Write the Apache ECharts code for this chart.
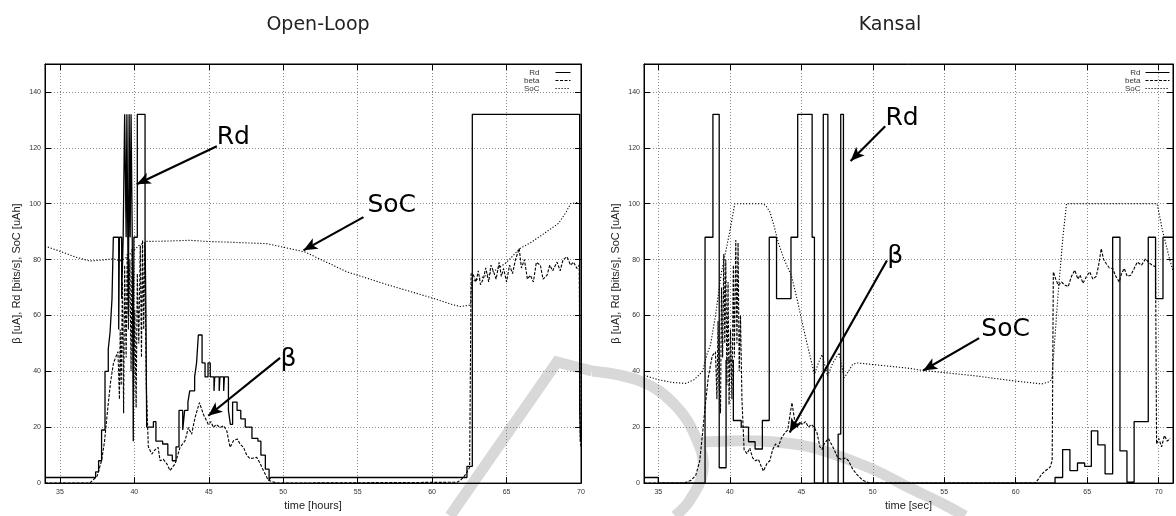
<!DOCTYPE html>
<html>
<head>
<meta charset="utf-8">
<script src="https://cdn.jsdelivr.net/npm/echarts@6/dist/echarts.min.js"></script>
<style>
html, body { margin: 0; padding: 0; background: #fff; }
#chart { width: 1176px; height: 516px; }
</style>
</head>
<body>
<div id="chart"></div>
<script>
// ---- Open-Loop (left panel), x = time [hours] ----
var olRd = [
    [34, 2], [37.4, 4], [37.6, 8], [37.8, 19], [38.03, 40], [38.25, 48], [38.37, 54], [38.5, 66],
    [38.59, 88], [38.95, 55], [39.0, 88], [39.15, 66], [39.25, 88], [39.35, 132], [39.45, 88],
    [39.5, 132], [39.6, 60], [39.65, 132], [39.72, 88], [39.78, 132], [39.86, 88], [39.93, 15],
    [39.97, 88], [40.2, 132], [40.72, 88], [40.78, 60], [40.83, 20], [41.28, 22], [41.45, 15],
    [41.9, 14], [42.25, 10], [42.55, 8], [42.8, 13], [43.0, 26], [43.25, 19], [43.38, 26],
    [43.6, 29], [43.72, 33], [44.05, 38], [44.18, 43], [44.3, 53], [44.55, 43], [44.75, 38],
    [44.95, 43], [45.1, 38], [45.35, 33], [45.4, 38], [45.7, 33], [45.75, 38], [46.0, 33],
    [46.05, 38], [46.32, 26], [46.45, 21], [46.6, 29], [46.9, 26], [47.15, 23], [47.45, 20],
    [47.9, 16], [48.3, 15], [48.5, 10], [48.8, 5], [49.05, 1], [49.15, 2], [62.34, 6],
    [62.7, 132], [69.91, 26], [69.97, 15], [70, 15]
];
var olBeta = [
    [34, 0], [37.0, 0], [37.5, 2.5], [37.8, 8], [38.0, 15], [38.2, 26], [38.4, 36], [38.6, 43],
    [38.9, 47], [39.0, 30], [39.05, 55], [39.12, 35], [39.2, 72], [39.28, 25], [39.35, 78],
    [39.45, 45], [39.52, 82], [39.6, 55], [39.7, 80], [39.78, 40], [39.85, 84], [39.95, 30],
    [40.03, 62], [40.12, 27], [40.2, 75], [40.3, 50], [40.4, 85], [40.48, 45], [40.55, 87],
    [40.63, 55], [40.7, 86], [40.8, 35], [40.94, 13], [41.17, 10.4], [41.4, 12], [41.6, 12.8],
    [41.73, 8], [41.95, 8.5], [42.18, 6.9], [42.4, 4.5], [42.6, 6], [42.74, 6.9], [43.07, 12.8],
    [43.41, 15.2], [43.63, 19.9], [43.85, 17.5], [44.08, 23.5], [44.37, 28.8], [44.64, 24.6],
    [44.97, 21], [45.15, 22], [45.31, 19.9], [45.5, 21], [45.76, 19.9], [46.0, 20.5],
    [46.21, 18.7], [46.43, 12.8], [46.66, 15.2], [46.92, 15.8], [47.1, 14], [47.33, 12.8],
    [47.55, 10], [47.78, 8.7], [48.0, 9], [48.23, 9.2], [48.45, 7], [48.67, 4.5], [49.0, 1],
    [49.57, 0], [61.67, 0.3], [61.9, 1], [62.11, 2.1], [62.3, 3.5], [62.52, 5.7], [62.62, 75],
    [62.78, 74.4], [62.95, 72], [63.1, 76], [63.25, 71], [63.45, 73.2], [63.6, 77], [63.8, 72],
    [63.95, 78], [64.13, 75.6], [64.3, 73], [64.5, 79], [64.65, 74], [64.8, 76.8], [65.0, 72],
    [65.2, 78], [65.4, 75], [65.6, 80], [65.85, 84], [66.0, 77], [66.2, 80], [66.4, 73],
    [66.6, 74.4], [66.8, 72], [67.0, 79], [67.27, 78], [67.45, 73], [67.72, 74.4], [67.9, 78],
    [68.1, 76], [68.39, 79.1], [68.6, 76], [68.8, 80], [69.06, 81], [69.3, 78], [69.5, 79.1],
    [69.73, 76.8], [69.88, 78], [69.95, 15], [70, 13]
];
var olSoc = [
    [34, 84.8], [35, 83], [36, 81], [37.0, 79.5], [37.8, 79.8], [38.59, 80.3], [39.04, 79.5],
    [39.4, 80.5], [39.71, 82], [40.3, 85], [40.83, 86.5], [42, 86.6], [43.74, 86.9],
    [44.87, 86.5], [46.5, 86.2], [48.9, 85.7], [50.47, 83.9], [51.47, 82.7], [54.28, 75.6],
    [57, 71], [60.1, 66.1], [61.3, 64], [61.89, 63.2], [62.56, 63.7], [62.66, 72], [63.5, 74],
    [64.2, 76], [65, 79], [65.9, 84], [66.6, 86], [67.7, 90], [68.5, 93], [69.0, 97],
    [69.3, 100], [69.9, 100.5]
];

// ---- Kansal (right panel), x = time [sec] ----
var kRd = [
    [34, 2], [35.0, 0], [38.27, 88], [38.82, 132], [39.26, 5.5], [39.74, 44], [40.25, 22.4],
    [40.8, 20], [41.31, 14.8], [41.77, 12.2], [42.28, 22.4], [42.76, 88], [43.27, 66],
    [44.28, 88], [44.75, 132], [45.76, 88], [45.92, 0], [46.54, 132], [46.86, 0], [47.58, 17.5],
    [47.76, 132], [47.95, 0], [62.75, 2], [63.28, 12], [63.79, 4.5], [64.32, 7.2], [64.82, 6],
    [65.29, 18.7], [65.74, 13.7], [66.25, 3.3], [66.78, 88], [67.29, 11.5], [67.78, 0.3],
    [68.28, 22], [69.27, 88], [69.78, 66], [70.3, 88], [71, 88]
];
var kBeta = [
    [34, 0], [36.8, 0], [37.3, 1], [37.62, 2.8], [37.9, 8], [38.1, 18], [38.27, 27], [38.5, 38],
    [38.77, 45.5], [39.0, 47], [39.1, 30], [39.18, 58], [39.25, 35], [39.35, 25], [39.42, 70],
    [39.5, 45], [39.58, 82], [39.65, 50], [39.72, 80], [39.8, 35], [39.88, 72], [39.95, 28],
    [40.05, 55], [40.15, 30], [40.25, 78], [40.32, 45], [40.42, 87], [40.5, 50], [40.58, 86],
    [40.66, 40], [40.75, 60], [40.85, 30], [41.0, 12], [41.2, 10.5], [41.4, 12.5], [41.6, 9],
    [41.8, 8], [42.0, 8.5], [42.2, 6], [42.35, 4.3], [42.6, 7], [42.8, 8], [43.0, 12],
    [43.2, 14], [43.4, 13], [43.6, 16], [43.85, 18], [44.05, 19], [44.2, 24], [44.35, 28.8],
    [44.55, 22], [44.75, 20], [44.9, 22], [45.1, 21], [45.3, 22], [45.5, 20], [45.7, 21],
    [45.9, 20], [46.1, 18], [46.3, 13], [46.45, 12], [46.6, 14], [46.9, 16], [47.1, 14],
    [47.3, 12], [47.55, 9], [47.8, 8.5], [48.1, 9], [48.3, 8], [48.6, 5], [48.9, 3], [49.3, 1],
    [49.8, 0], [61.37, 0], [61.6, 1.5], [61.83, 3.3], [62.1, 4.5], [62.4, 5.7], [62.55, 8],
    [62.63, 75.6], [62.8, 73], [62.98, 70.8], [63.2, 72], [63.4, 71], [63.67, 70.3], [63.9, 74],
    [64.13, 76.2], [64.35, 73], [64.5, 74.5], [64.7, 71.5], [64.95, 74], [65.17, 75.6],
    [65.4, 73], [65.63, 74], [65.8, 78], [65.98, 83.9], [66.15, 80], [66.32, 78.6], [66.55, 77],
    [66.78, 76.8], [67.0, 74], [67.24, 72], [67.4, 75], [67.59, 76.8], [67.8, 74], [68.05, 74.4],
    [68.3, 77], [68.5, 79.1], [68.8, 78], [69.08, 80.3], [69.3, 79], [69.54, 78], [69.78, 77.4],
    [69.85, 14], [70.0, 16], [70.2, 13], [70.4, 17], [70.6, 15], [70.8, 16]
];
var kSoc = [
    [34, 38.6], [35, 37], [36, 36], [36.93, 35.7], [37.5, 37], [38.1, 40], [38.4, 46],
    [38.65, 49.5], [39.0, 60], [39.4, 75], [39.8, 85], [40.0, 90], [40.35, 100], [42.23, 100],
    [42.5, 99.5], [42.81, 97], [43.1, 92], [43.38, 86.3], [43.8, 80], [44.3, 74.4], [44.7, 66],
    [45.0, 59], [45.4, 50], [45.92, 38.9], [46.2, 43], [46.45, 46], [46.84, 38.3], [47.2, 43],
    [47.65, 46.6], [48.0, 37.7], [48.3, 40], [48.6, 42.5], [48.92, 43], [50.07, 42.4],
    [52.37, 41.2], [53.53, 40.3], [57, 38.5], [60, 36.5], [61.83, 35.5], [62.3, 36.2],
    [62.52, 37], [62.63, 37.7], [63.0, 70], [63.3, 88], [63.55, 100], [69.89, 100],
    [70.24, 91], [70.77, 80], [71, 76]
];

var legendNames = ['Rd', 'beta', 'SoC'];

// annotation text + arrow (data coordinates)
var olNotes = [
    {text: 'Rd', at: [45.5, 123.7], from: [45.54, 120.6], to: [40.16, 107]},
    {text: 'SoC', at: [55.62, 99.5], from: [55.39, 95.2], to: [51.36, 83.3]},
    {text: 'β', at: [49.79, 44.2], from: [49.79, 44.8], to: [44.97, 24.1]}
];
var kNotes = [
    {text: 'Rd', at: [50.85, 130.5], from: [50.87, 127.7], to: [48.45, 115.3]},
    {text: 'β', at: [50.98, 81.0], from: [50.99, 79.7], to: [44.19, 18.1]},
    {text: 'SoC', at: [57.56, 55.1], from: [57.44, 51.9], to: [53.53, 40.3]}
];

var TICK_FONT = 'Liberation Sans';

function makeX(grid, max, name, mirror) {
    return {
        type: 'value', gridIndex: grid, min: 34, max: max, splitNumber: 7,
        position: mirror ? 'top' : 'bottom',
        name: mirror ? '' : name, nameLocation: 'middle', nameGap: 16,
        nameTextStyle: {fontFamily: TICK_FONT, fontSize: 11, color: '#222'},
        axisLine: {show: true, onZero: false, lineStyle: {color: '#000', width: 1}},
        axisTick: {show: true, inside: true, length: 6, lineStyle: {color: '#000'}},
        axisLabel: {
            show: !mirror, fontFamily: TICK_FONT, fontSize: 7, color: '#333', margin: 5,
            formatter: function (v) { return (v % 5 === 0 && v >= 35 && v <= 70) ? String(v) : ''; }
        },
        splitLine: {show: !mirror, lineStyle: {color: '#888', width: 1, type: [1, 2]}}
    };
}

function makeY(grid, mirror) {
    return {
        type: 'value', gridIndex: grid, min: 0, max: 150, interval: 20,
        position: mirror ? 'right' : 'left',
        name: mirror ? '' : 'β [uA], Rd [bits/s], SoC [uAh]',
        nameLocation: 'middle', nameGap: 23,
        nameTextStyle: {fontFamily: TICK_FONT, fontSize: 11, color: '#222'},
        axisLine: {show: true, onZero: false, lineStyle: {color: '#000', width: 1}},
        axisTick: {show: true, inside: true, length: 6, lineStyle: {color: '#000'}},
        axisLabel: {
            show: !mirror, fontFamily: TICK_FONT, fontSize: 7, color: '#333', margin: 4,
            formatter: function (v) { return (v % 20 === 0 && v <= 140) ? String(v) : ''; }
        },
        splitLine: {show: !mirror, lineStyle: {color: '#888', width: 1, type: [1, 2]}}
    };
}

function makeSeries(idx, rd, beta, soc, notes) {
    return [
        {
            name: 'Rd', type: 'line', xAxisIndex: idx, yAxisIndex: idx, data: rd,
            step: 'end', symbol: 'none', showSymbol: false, z: 4,
            lineStyle: {color: '#000', width: 1.3}, itemStyle: {color: '#000'}
        },
        {
            name: 'beta', type: 'line', xAxisIndex: idx, yAxisIndex: idx, data: beta,
            symbol: 'none', showSymbol: false, z: 3,
            lineStyle: {color: '#000', width: 1.1, type: [3, 1.5]}, itemStyle: {color: '#000'}
        },
        {
            name: 'SoC', type: 'line', xAxisIndex: idx, yAxisIndex: idx, data: soc,
            symbol: 'none', showSymbol: false, z: 3,
            lineStyle: {color: '#000', width: 1.1, type: [1.2, 1.8]}, itemStyle: {color: '#000'},
            markLine: {
                silent: true, symbol: ['none', 'arrow'], symbolSize: [9, 14],
                label: {show: false},
                lineStyle: {color: '#000', width: 2.2, type: 'solid'},
                data: notes.map(function (n) { return [{coord: n.from}, {coord: n.to}]; })
            },
            markPoint: {
                silent: true, symbol: 'circle', symbolSize: 1,
                itemStyle: {color: 'rgba(0,0,0,0)'},
                label: {
                    show: true, position: 'right', distance: 0, formatter: '{b}',
                    fontFamily: 'DejaVu Sans', fontSize: 25, color: '#000'
                },
                data: notes.map(function (n) { return {name: n.text, coord: n.at}; })
            }
        }
    ];
}

function makeLegend(right, lineWidth, gap) {
    return {
        data: legendNames, orient: 'vertical', right: right, top: 68.5, padding: 0,
        itemWidth: lineWidth, itemHeight: 8, itemGap: 0, align: 'right', selectedMode: false,
        itemStyle: {opacity: 0, borderWidth: 0},
        lineStyle: {width: 1},
        textStyle: {fontFamily: TICK_FONT, fontSize: 8, color: '#333', padding: [0, gap, 0, 0]}
    };
}

var wm = {stroke: '#d8d8d8', lineWidth: 11, fill: null, lineCap: 'butt', lineJoin: 'miter'};

var option = {
    backgroundColor: '#fff',
    animation: false,
    title: [
        {text: 'Open-Loop', left: 313, top: 11, textAlign: 'center',
         textStyle: {fontFamily: 'DejaVu Sans', fontSize: 19, fontWeight: 'normal', color: '#222'}},
        {text: 'Kansal', left: 885, top: 11, textAlign: 'center',
         textStyle: {fontFamily: 'DejaVu Sans', fontSize: 19, fontWeight: 'normal', color: '#222'}}
    ],
    legend: [makeLegend(605, 15, 11), makeLegend(6, 24, 0)],
    grid: [
        {left: 45, top: 64, width: 536, height: 422, show: true, borderColor: '#000', borderWidth: 1},
        {left: 644, top: 64, width: 535, height: 422, show: true, borderColor: '#000', borderWidth: 1}
    ],
    xAxis: [
        makeX(0, 70, 'time [hours]', false),
        makeX(1, 71, 'time [sec]', false),
        makeX(0, 70, '', true),
        makeX(1, 71, '', true)
    ],
    yAxis: [makeY(0, false), makeY(1, false), makeY(0, true), makeY(1, true)],
    graphic: [
        {type: 'polyline', z: -1, silent: true,
         shape: {points: [[450, 516], [557, 362], [592, 371]]}, style: wm},
        {type: 'polyline', z: -1, silent: true,
         shape: {points: [[592, 371], [640, 381], [675, 405], [697, 440], [703, 470], [690, 500], [675, 516]], smooth: 0.4},
         style: wm},
        {type: 'polyline', z: -1, silent: true,
         shape: {points: [[700, 442], [760, 441], [810, 447], [870, 468], [910, 488], [945, 505], [965, 516]], smooth: 0.3},
         style: wm}
    ],
    series: [].concat(
        makeSeries(0, olRd, olBeta, olSoc, olNotes),
        makeSeries(1, kRd, kBeta, kSoc, kNotes)
    )
};

var chart = echarts.init(document.getElementById('chart'));
chart.setOption(option);
</script>
</body>
</html>
